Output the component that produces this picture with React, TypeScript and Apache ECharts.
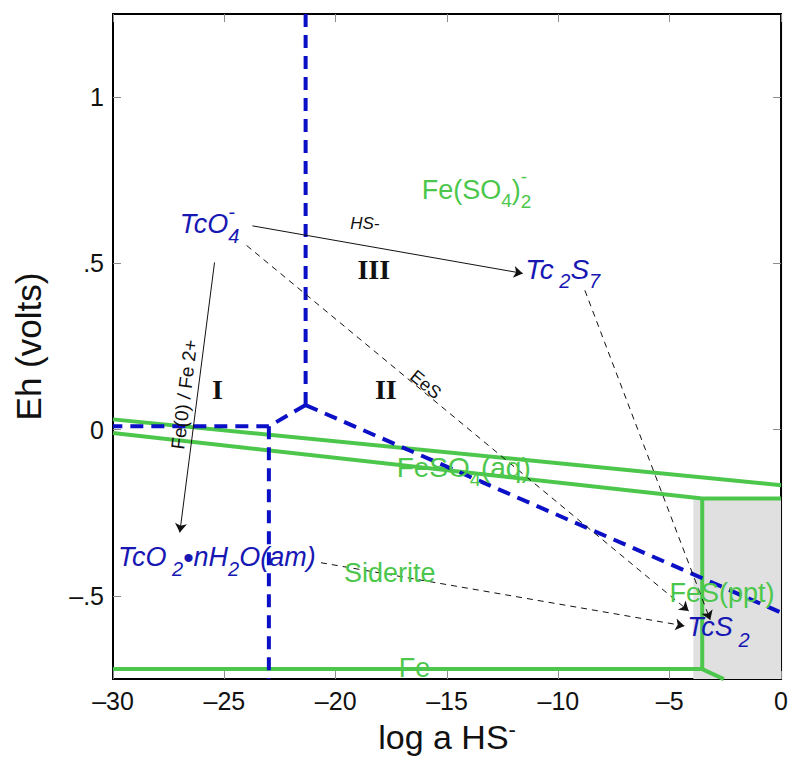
import React, { useEffect, useRef } from 'react';
import * as echarts from 'echarts';

// ---------- data ----------
const xTickValues = [-30, -25, -20, -15, -10, -5, 0];
const yTickValues = [-0.5, 0, 0.5, 1];
const yTickLabels = ['–.5', '0', '.5', '1'];

// Tc stability boundaries (blue dashed)
const blueUpperVertical = [[-21.35, 1.25], [-21.35, 0.074]];
const blueJunctionLeft = [[-21.35, 0.074], [-23.0, 0.01], [-30, 0.01]];
const blueLowerVertical = [[-23.0, 0.01], [-23.0, -0.75]];
const blueJunctionRight = [[-21.35, 0.074], [0, -0.55]];

// Fe stability boundaries (green)
const greenUpper = [[-30, 0.031], [0, -0.167]];
const greenLower = [[-30, -0.01], [-3.54, -0.207], [0, -0.207]];
const greenVertical = [[-3.54, -0.207], [-3.54, -0.72]];
const greenBottom = [[-30, -0.72], [-3.54, -0.72], [-2.57, -0.75]];

// FeS(ppt) shaded field (top edge, filled down to axis minimum)
const fesField = [[-3.94, -0.207], [0, -0.207]];

// reaction arrows [from, to]
const solidArrows = [
  [[-23.74, 0.613], [-11.6, 0.47]],
  [[-25.44, 0.503], [-27.0, -0.309]],
];
const dashedArrows = [
  [[-24.0, 0.554], [-4.15, -0.545]],
  [[-8.81, 0.419], [-3.18, -0.572]],
  [[-20.66, -0.40], [-4.34, -0.59]],
];

// ---------- styles ----------
const BLUE = '#0b10c6';
const GREEN = '#4cc74c';
const TXT_BLUE = '#1717b4';
const SANS = "'Liberation Sans', Arial, Helvetica, sans-serif";
const SERIF = "'Liberation Serif', 'Times New Roman', serif";

type Frag = { t: string; size: number; dy?: number; stack?: boolean; adv?: number };
type Label = {
  x: number; y: number; color: string; italic?: boolean; bold?: boolean; family?: string;
  frags: Frag[]; rotation?: number; align?: 'left' | 'center';
};

const labels: Label[] = [
  { x: -27.0, y: 0.619, color: TXT_BLUE, italic: true, frags: [
    { t: 'TcO', size: 27 }, { t: '4', size: 20, dy: 12 }, { t: '-', size: 20, dy: -12, stack: true } ] },
  { x: -18.69, y: 0.62, color: '#111', italic: true, align: 'center', frags: [{ t: 'HS-', size: 17 }] },
  { x: -11.49, y: 0.482, color: TXT_BLUE, italic: true, frags: [
    { t: 'Tc', size: 28 }, { t: ' 2', size: 20, dy: 12 }, { t: 'S', size: 28 }, { t: '7', size: 20, dy: 12 } ] },
  { x: -16.14, y: 0.721, color: GREEN, frags: [
    { t: 'Fe(SO', size: 27 }, { t: '4', size: 19, dy: 11 }, { t: ')', size: 27 },
    { t: '2', size: 19, dy: 12 }, { t: '-', size: 19, dy: -13, stack: true } ] },
  { x: -18.29, y: 0.482, color: '#111', bold: true, family: SERIF, align: 'center', frags: [{ t: 'III', size: 28 }] },
  { x: -25.31, y: 0.121, color: '#111', bold: true, family: SERIF, align: 'center', frags: [{ t: 'I', size: 28 }] },
  { x: -17.75, y: 0.121, color: '#111', bold: true, family: SERIF, align: 'center', frags: [{ t: 'II', size: 28 }] },
  { x: -15.96, y: 0.136, color: '#111', align: 'center', rotation: -0.69, frags: [{ t: 'EeS', size: 18 }] },
  { x: -26.8, y: 0.106, color: '#111', align: 'center', rotation: 1.45, frags: [{ t: 'Fe(0) / Fe 2+', size: 19 }] },
  { x: -29.78, y: -0.384, color: TXT_BLUE, italic: true, frags: [
    { t: 'TcO', size: 27 }, { t: ' 2', size: 20, dy: 12 }, { t: '•', size: 30 }, { t: 'nH', size: 27 },
    { t: '2', size: 20, dy: 12 }, { t: 'O(am)', size: 27 } ] },
  { x: -19.63, y: -0.431, color: GREEN, frags: [{ t: 'Siderite', size: 27 }] },
  { x: -17.26, y: -0.115, color: GREEN, frags: [
    { t: 'FeSO', size: 28 }, { t: '4', size: 20, dy: 11 }, { t: '(aq)', size: 28 } ] },
  { x: -5.01, y: -0.491, color: GREEN, frags: [{ t: 'FeS(ppt)', size: 27 }] },
  { x: -4.21, y: -0.593, color: TXT_BLUE, italic: true, frags: [
    { t: 'TcS', size: 27 }, { t: ' 2', size: 20, dy: 13 } ] },
  { x: -17.17, y: -0.718, color: GREEN, frags: [{ t: 'Fe', size: 27 }] },
];

let measureCtx: CanvasRenderingContext2D | null = null;
function textWidth(text: string, font: string) {
  if (!measureCtx) measureCtx = document.createElement('canvas').getContext('2d');
  measureCtx!.font = font;
  return measureCtx!.measureText(text).width;
}

function buildGraphics(chart: echarts.ECharts) {
  const out: any[] = [];
  labels.forEach((lb) => {
    const p = chart.convertToPixel({ gridIndex: 0 }, [lb.x, lb.y]) as number[];
    const fam = lb.family || SANS;
    const fontOf = (size: number) =>
      `${lb.italic ? 'italic' : 'normal'} ${lb.bold ? 'bold' : 'normal'} ${size}px ${fam}`;
    if (lb.rotation !== undefined || lb.align === 'center') {
      const f = lb.frags[0];
      out.push({
        type: 'text', x: p[0], y: p[1], rotation: lb.rotation || 0, z: 100,
        style: {
          text: f.t, font: fontOf(f.size), fill: lb.color,
          align: 'center', verticalAlign: 'middle', textAlign: 'center', textVerticalAlign: 'middle',
        },
      });
      return;
    }
    let cursor = p[0];
    let prevStart = p[0];
    lb.frags.forEach((f) => {
      const font = fontOf(f.size);
      const w = textWidth(f.t, font);
      const sx = f.stack ? prevStart : cursor;
      out.push({
        type: 'text', x: sx, y: p[1] + (f.dy || 0), z: 100,
        style: {
          text: f.t, font, fill: lb.color,
          align: 'left', verticalAlign: 'middle', textAlign: 'left', textVerticalAlign: 'middle',
        },
      });
      if (!f.stack) {
        prevStart = cursor;
        cursor += w * (f.adv === undefined ? 1 : f.adv);
      }
    });
  });
  return out;
}

const lineSeries = (data: number[][], color: string, type: any, z: number) => ({
  type: 'line', data, symbol: 'none', silent: true, z,
  lineStyle: { color, width: 4, type, cap: 'butt' },
});

const tickStyle = { inside: true, length: 8, lineStyle: { color: '#8c8c8c', width: 1 } };

const option: any = {
  animation: false,
  backgroundColor: '#fff',
  grid: { left: 113, right: 7, top: 14, bottom: 74, show: true, borderColor: '#000', borderWidth: 2, backgroundColor: 'transparent' },
  xAxis: [
    {
      type: 'value', min: -30, max: 0, interval: 5, position: 'bottom',
      axisLine: { show: false, onZero: false }, splitLine: { show: false }, axisTick: tickStyle,
      axisLabel: {
        margin: 9, fontSize: 25, color: '#111', fontFamily: SANS,
        formatter: (v: number) => (xTickValues.includes(v) ? (v < 0 ? '–' + Math.abs(v) : String(v)) : ''),
      },
      name: '{a|log a HS}{b|-}', nameLocation: 'middle', nameGap: 31,
      nameTextStyle: {
        color: '#111',
        rich: {
          a: { fontSize: 34, fontFamily: SANS, color: '#111', lineHeight: 38 },
          b: { fontSize: 22, fontFamily: SANS, color: '#111', verticalAlign: 'top', lineHeight: 22 },
        },
      },
    },
    {
      type: 'value', min: -30, max: 0, interval: 5, position: 'top',
      axisLine: { show: false, onZero: false }, splitLine: { show: false }, axisTick: tickStyle, axisLabel: { show: false },
    },
  ],
  yAxis: [
    {
      type: 'value', min: -0.75, max: 1.25, position: 'left',
      axisLine: { show: false, onZero: false }, splitLine: { show: false },
      axisTick: { ...tickStyle, customValues: yTickValues },
      axisLabel: {
        customValues: yTickValues, margin: 9, fontSize: 25, color: '#111', fontFamily: SANS,
        formatter: (v: number) => {
          const i = yTickValues.findIndex((t) => Math.abs(t - v) < 1e-9);
          return i >= 0 ? yTickLabels[i] : '';
        },
      },
      name: 'Eh (volts)', nameLocation: 'middle', nameRotate: 90, nameGap: 67,
      nameTextStyle: { fontSize: 35, fontFamily: SANS, color: '#111' },
    },
    {
      type: 'value', min: -0.75, max: 1.25, position: 'right',
      axisLine: { show: false, onZero: false }, splitLine: { show: false },
      axisTick: { ...tickStyle, customValues: yTickValues }, axisLabel: { show: false },
    },
  ],
  series: [
    {
      type: 'line', data: fesField, symbol: 'none', silent: true, z: 1,
      lineStyle: { width: 0, opacity: 0 },
      areaStyle: { color: '#e0e0e0', opacity: 1, origin: 'start' },
    },
    lineSeries(greenUpper, GREEN, 'solid', 3),
    lineSeries(greenLower, GREEN, 'solid', 3),
    lineSeries(greenVertical, GREEN, 'solid', 3),
    lineSeries(greenBottom, GREEN, 'solid', 3),
    lineSeries(blueUpperVertical, BLUE, [13, 8], 4),
    lineSeries(blueJunctionLeft, BLUE, [13, 8], 4),
    lineSeries(blueLowerVertical, BLUE, [13, 8], 4),
    lineSeries(blueJunctionRight, BLUE, [13, 8], 4),
    {
      type: 'lines', coordinateSystem: 'cartesian2d', silent: true, z: 5,
      symbol: ['none', 'arrow'], symbolSize: 9,
      lineStyle: { color: '#111', width: 1, type: 'solid', curveness: 0, opacity: 1 },
      data: solidArrows.map((c) => ({ coords: c })),
    },
    {
      type: 'lines', coordinateSystem: 'cartesian2d', silent: true, z: 5,
      symbol: ['none', 'arrow'], symbolSize: 9,
      lineStyle: { color: '#111', width: 1, type: [6, 5], curveness: 0, opacity: 1 },
      data: dashedArrows.map((c) => ({ coords: c })),
    },
  ],
};

export default function App() {
  const ref = useRef<HTMLDivElement>(null);
  useEffect(() => {
    const chart = echarts.init(ref.current!, null, { renderer: 'svg' });
    chart.setOption(option);
    chart.setOption({ graphic: buildGraphics(chart) });
    return () => chart.dispose();
  }, []);
  return <div ref={ref} style={{ position: 'fixed', left: 0, top: 0, width: 791, height: 759 }} />;
}
